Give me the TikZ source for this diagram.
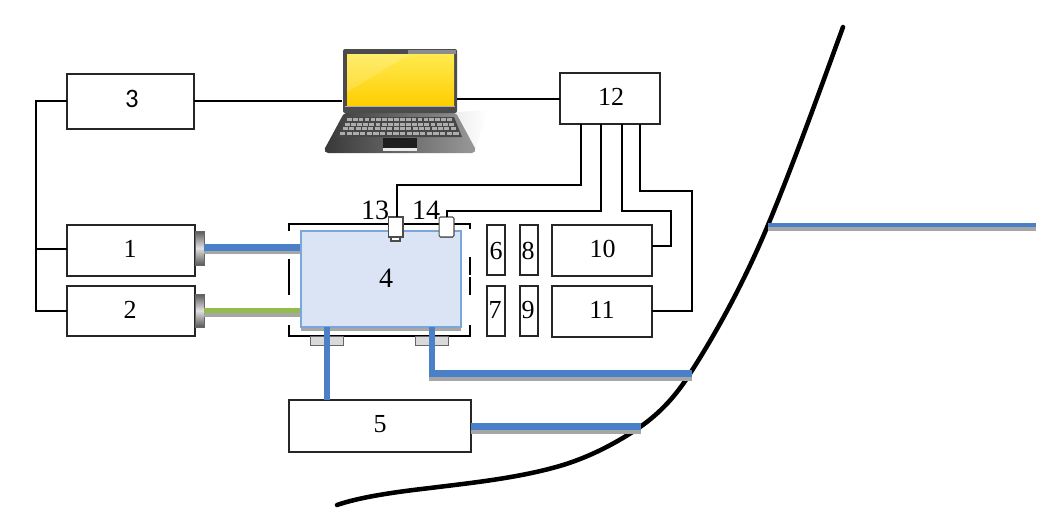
\documentclass[tikz,border=0pt]{standalone}
\usepackage{fontspec}
\setmainfont{Liberation Serif}
\newfontfamily\sanslabel{Carlito}
\definecolor{pipeblue}{HTML}{4A80C8}
\definecolor{pipegreen}{HTML}{92BC4C}
\definecolor{pipegray}{HTML}{A6A6A6}
\definecolor{tankfill}{HTML}{DAE4F4}
\definecolor{tankedge}{HTML}{7AA6DC}
\definecolor{footfill}{HTML}{D9D9D9}
\definecolor{screentop}{HTML}{FFEA50}
\definecolor{screenlow}{HTML}{FFCE00}
\tikzset{
  every node/.style={inner sep=0pt,outer sep=0pt},
  lbl/.style={font=\fontsize{19.5}{21}\selectfont},
  biglbl/.style={font=\fontsize{21}{23}\selectfont},
  wire/.style={draw=black,line width=1.25pt},
  thinbox/.style={draw=black!85,line width=1.1pt,fill=white,lbl},
  pipe/.style={line width=5.2pt,pipeblue},
  shade/.style={line width=3pt,pipegray},
  gpipe/.style={line width=4pt,pipegreen},
  emitter/.style={draw=black!60,line width=.5pt,top color=black!65,bottom color=black!65,middle color=black!12},
  fineframe/.style={line width=1.1pt,draw=black},
  foot/.style={fill=footfill,draw=black!60,line width=.7pt},
  sensor/.style={fill=white,draw=black!70,line width=.8pt},
  ground/.style={line width=3.4pt,draw=black,line cap=round},
}
\newcommand{\off}[3]{\raisebox{\dimexpr#2pt*3/4-0.338em\relax}[0pt][0pt]{\makebox[0pt]{\hspace{\dimexpr#1pt*3/2\relax}#3}}}
\newcommand{\bx}[6]{\pgfmathsetmacro{\bxw}{(#4-#2)*0.75}\pgfmathsetmacro{\bxh}{(#5-#3)*0.75}
  \node[thinbox,minimum width=\bxw pt,minimum height=\bxh pt] (#1) at ({(#2+#4)/2},{(#3+#5)/2}) {#6};}
\begin{document}
\begin{tikzpicture}[x=0.75pt,y=-0.75pt]
\useasboundingbox (0,0) rectangle (1056,526);
% laptop
\shade[left color=black!12,right color=white] (445,113) -- (488,110) -- (474,153) -- (430,153) -- cycle;
\shade[left color=black!78,right color=black!40,rounded corners=1.5pt] (344,113) -- (456,113) -- (476,150) -- (474,153) -- (326,153) -- (324,150) -- cycle;
\fill[rounded corners=1.5pt,black!70] (343,49) rectangle (457,113);
\fill[black!45] (408,49.5) rectangle (456,53.5);
\shade[top color=screentop,bottom color=screenlow] (347,54) rectangle (454,105);
\fill[white,opacity=.16] (347,54) -- (410,54) -- (347,92) -- cycle;
\draw[black!30,line width=.6pt] (345,106) -- (455,106);
\fill[black!72] (346,117) -- (454,117) -- (462,137) -- (338,137) -- cycle;
\foreach \yy/\xa/\xb in {118/347/453,122.5/345/455,127/343/457,131.5/340/460}{
  \foreach \k in {0,...,17}{
    \pgfmathsetmacro{\kx}{\xa+(\xb-\xa)*\k/18}
    \pgfmathsetmacro{\kw}{(\xb-\xa)/18-1.2}
    \fill[black!32] (\kx,\yy) rectangle ++(\kw,3.2);
  }
}
\fill[black!88] (383,138) rectangle (417,148);
\fill[black!8] (383,148) rectangle (417,150.5);
\node (laptop) at (400,100) [minimum width=87pt,minimum height=60pt] {};
% ground curve
\draw[ground] (843,27) .. controls (820,90) and (793,165) .. (768,225)
  .. controls (745,280) and (718,330) .. (691,372)
  .. controls (676,396) and (660,413) .. (640,427)
  .. controls (618,442) and (592,456) .. (563,465)
  .. controls (520,478) and (470,483) .. (430,488)
  .. controls (395,492) and (360,497) .. (337,505);
% boxes
\bx{b3}{67}{74}{194}{129}{\off{1.5}{2.5}{\sanslabel\fontsize{20}{22}\selectfont 3}}
\bx{b12}{560}{73}{660}{124}{\off{1}{1.5}{12}}
\bx{b1}{67}{225}{195}{276}{\off{-1}{1.5}{1}}
\bx{b2}{67}{286}{195}{336}{\off{-1}{1}{2}}
\bx{b5}{289}{400}{471}{452}{\off{0}{2}{5}}
\bx{b10}{552}{225}{652}{276}{\off{0.5}{1.5}{10}}
\bx{b11}{552}{286}{652}{337}{\off{0}{1.5}{11}}
\bx{b6}{487}{225}{505}{275}{\off{0}{-1}{6}}
\bx{b7}{487}{286}{505}{336}{\off{-1}{1}{7}}
\bx{b8}{520}{225}{538}{275}{\off{-1}{-1}{8}}
\bx{b9}{520}{286}{538}{336}{\off{-1}{1}{9}}
% frame
\draw[fineframe] (289,231) -- (289,224) -- (470,224) -- (470,229);
\draw[fineframe] (289,259) -- (289,295);
\draw[fineframe] (470,257) -- (470,275);
\draw[fineframe] (470,277) -- (470,295);
\draw[fineframe] (289,325) -- (289,336) -- (470,336) -- (470,325);
\draw[foot] (310,336) rectangle (343,345);
\draw[foot] (415,336) rectangle (448,345);
% pipes
\draw[emitter] (195,231) rectangle (204,265);
\draw[emitter] (195,294) rectangle (204,327);
\draw[shade] (204,251.5) -- (301,251.5);
\draw[pipe] (204,247.5) -- (301,247.5);
\draw[shade] (204,314.5) -- (301,314.5);
\draw[gpipe] (204,310.5) -- (301,310.5);
% tank
\fill[pipegray] (301,327) rectangle (461,331);
\node[draw=tankedge,fill=tankfill,line width=.8pt,biglbl,minimum width=120pt,minimum height=72pt] (b4) at (381,279) {\off{5}{1}{4}};
% lower pipes
\coordinate (elbow) at (432,373.5);
\coordinate (hitA) at (692,373.5);
\coordinate (hitB) at (641,426.5);
\draw[shade] (428.5,379) -- (692,379);
\draw[pipe] (327,327) -- (327,400);
\draw[pipe,line join=miter] (432,327) -- (elbow) -- (hitA);
\draw[shade] (b5.east |- 0,431.5) -- (641,431.5);
\draw[pipe] (b5.east |- hitB) -- (hitB);
\draw[shade] (768,229) -- (1036,229);
\draw[line width=3.2pt,pipeblue] (768,225) -- (1036,225);
% sensors
\draw[sensor] (391,237) rectangle (400,241);
\node[sensor,minimum width=11.2pt,minimum height=15pt] (s13) at (395.5,227) {};
\draw[sensor] (441,237) arc[start angle=180,end angle=360,x radius=5.5,y radius=4] -- cycle;
\node[sensor,rounded corners=1pt,minimum width=11.2pt,minimum height=15pt] (s14) at (446.5,227) {};
\node[biglbl] (t13) at (375,210) {13};
\node[biglbl] (t14) at (426,210) {14};
% wires
\coordinate (busTop) at (36,101);
\coordinate (busMid) at (36,249);
\coordinate (busLow) at (36,311);
\coordinate (lapR) at (457,99);
\draw[wire] (b3.west |- busTop) -- (busTop) -- (busLow) -- (b2.west |- busLow);
\draw[wire] (busMid) -- (b1.west |- busMid);
\draw[wire] (b3.east |- busTop) -- (laptop.west |- busTop);
\draw[wire] (b12.west |- lapR) -- (lapR);
\draw[wire] (581,124) -- (581,185) -- (397,185) -- (s13.north -| 397,0);
\draw[wire] (601,124) -- (601,211) -- (447,211) -- (s14.north -| 447,0);
\draw[wire] (622,124) -- (622,211) -- (671,211) -- (671,246) -- (652,246);
\draw[wire] (640,124) -- (640,191) -- (692,191) -- (692,311) -- (652,311);
\end{tikzpicture}
\end{document}
